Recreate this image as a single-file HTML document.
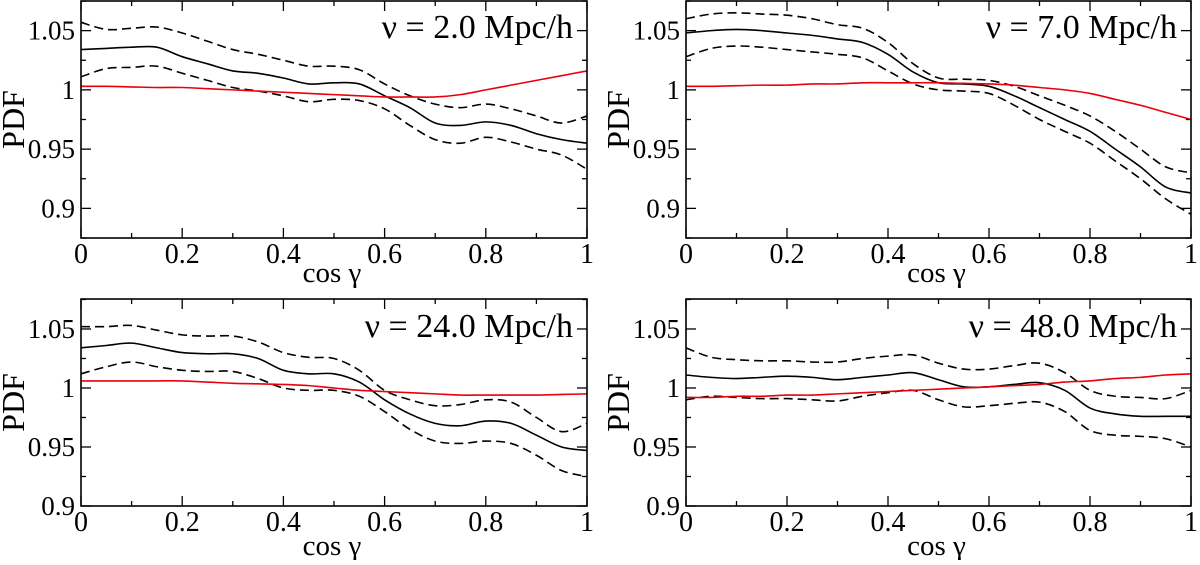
<!DOCTYPE html>
<html><head><meta charset="utf-8"><style>
html,body{margin:0;padding:0;background:#fff}
text{font-family:"Liberation Serif","Times New Roman","Tinos","DejaVu Serif",serif}
</style></head><body>
<svg id="c" width="1200" height="560" xmlns="http://www.w3.org/2000/svg"></svg>
<script>
const xs = [0,0.05,0.1,0.15,0.2,0.25,0.3,0.35,0.4,0.45,0.5,0.55,0.6,0.65,0.7,0.75,0.8,0.85,0.9,0.95,1];
const panelLabels = ["ν = 2.0 Mpc/h","ν = 7.0 Mpc/h","ν = 24.0 Mpc/h","ν = 48.0 Mpc/h"];
const xTicks = ["0","0.2","0.4","0.6","0.8","1"];
const yTicksTop = ["0.9","0.95","1","1.05"];
const yTicksBottom = ["0.9","0.95","1","1.05"];
// panel 1
const mean1 = [1.034,1.035,1.036,1.036,1.028,1.022,1.016,1.014,1.010,1.005,1.006,1.005,0.995,0.985,0.972,0.970,0.973,0.970,0.963,0.958,0.955];
const up1 = [1.057,1.051,1.052,1.053,1.048,1.041,1.034,1.030,1.025,1.020,1.020,1.017,1.005,0.995,0.988,0.985,0.988,0.984,0.978,0.972,0.978];
const lo1 = [1.011,1.018,1.019,1.020,1.014,1.008,1.002,0.999,0.995,0.990,0.992,0.991,0.984,0.970,0.958,0.955,0.960,0.956,0.950,0.945,0.933];
const red1 = [1.003,1.003,1.0025,1.002,1.002,1.001,1.000,0.999,0.998,0.997,0.996,0.995,0.994,0.994,0.994,0.996,1.000,1.004,1.008,1.012,1.016];
// panel 2
const mean2 = [1.048,1.050,1.051,1.050,1.048,1.046,1.043,1.040,1.030,1.015,1.006,1.005,1.003,0.995,0.985,0.975,0.965,0.950,0.935,0.918,0.913];
const up2 = [1.060,1.064,1.065,1.064,1.063,1.060,1.055,1.052,1.040,1.022,1.010,1.009,1.008,1.003,0.995,0.987,0.978,0.965,0.950,0.935,0.930];
const lo2 = [1.028,1.035,1.037,1.036,1.034,1.032,1.030,1.027,1.016,1.005,1.000,0.999,0.997,0.987,0.975,0.965,0.955,0.940,0.925,0.908,0.895];
const red2 = [1.003,1.003,1.0035,1.004,1.004,1.005,1.005,1.006,1.006,1.006,1.006,1.0055,1.005,1.004,1.002,1.000,0.997,0.992,0.987,0.981,0.975];
// panel 3
const mean3 = [1.034,1.036,1.038,1.034,1.030,1.029,1.029,1.025,1.015,1.012,1.012,1.005,0.990,0.978,0.970,0.968,0.972,0.970,0.960,0.950,0.947];
const up3 = [1.052,1.052,1.053,1.049,1.045,1.044,1.044,1.039,1.030,1.026,1.025,1.015,0.998,0.990,0.985,0.986,0.990,0.988,0.975,0.963,0.970];
const lo3 = [1.012,1.018,1.022,1.018,1.015,1.014,1.014,1.008,1.000,0.998,0.998,0.993,0.980,0.965,0.955,0.953,0.955,0.953,0.943,0.930,0.925];
const red3 = [1.006,1.006,1.006,1.006,1.006,1.005,1.004,1.0035,1.003,1.002,1.000,0.998,0.997,0.996,0.995,0.994,0.994,0.994,0.994,0.9945,0.995];
// panel 4
const mean4 = [1.011,1.009,1.008,1.009,1.010,1.009,1.007,1.009,1.011,1.013,1.007,1.001,1.001,1.003,1.0045,0.998,0.983,0.978,0.976,0.976,0.976];
const up4 = [1.034,1.026,1.024,1.023,1.023,1.022,1.022,1.025,1.027,1.028,1.021,1.016,1.016,1.019,1.021,1.013,0.998,0.993,0.992,0.991,0.998];
const lo4 = [0.990,0.993,0.992,0.991,0.991,0.990,0.989,0.993,0.996,0.998,0.990,0.984,0.985,0.987,0.988,0.980,0.964,0.960,0.959,0.957,0.950];
const red4 = [0.992,0.992,0.993,0.993,0.994,0.994,0.995,0.996,0.997,0.998,0.999,1.000,1.001,1.002,1.003,1.005,1.006,1.008,1.009,1.011,1.012];

const NS="http://www.w3.org/2000/svg";
const svg=document.getElementById('c');
function mk(tag,attrs,parent){const e=document.createElementNS(NS,tag);for(const k in attrs)e.setAttribute(k,attrs[k]);(parent||svg).appendChild(e);return e;}
const panels=[
 {x0:81,x1:587,y0:1,y1:238,ymin:0.875,ymax:1.075,yt:yTicksTop,series:[mean1,up1,lo1,red1],lab:panelLabels[0],ann:38,xl:263,cl:282},
 {x0:686,x1:1191,y0:1,y1:238,ymin:0.875,ymax:1.075,yt:yTicksTop,series:[mean2,up2,lo2,red2],lab:panelLabels[1],ann:38,xl:263,cl:282},
 {x0:81,x1:587,y0:299,y1:506,ymin:0.9,ymax:1.0754,yt:yTicksBottom,series:[mean3,up3,lo3,red3],lab:panelLabels[2],ann:337,xl:531,cl:555},
 {x0:686,x1:1191,y0:299,y1:506,ymin:0.9,ymax:1.0754,yt:yTicksBottom,series:[mean4,up4,lo4,red4],lab:panelLabels[3],ann:337,xl:531,cl:555}
];
function pathD(xf,yf,vals){
 const p=xs.map((x,i)=>[xf(x),yf(vals[i])]);
 let d=`M${p[0][0]},${p[0][1]}`;
 for(let i=0;i<p.length-1;i++){
  const a=p[Math.max(0,i-1)],b=p[i],c=p[i+1],e=p[Math.min(p.length-1,i+2)];
  d+=` C${b[0]+(c[0]-a[0])/6},${b[1]+(c[1]-a[1])/6} ${c[0]-(e[0]-b[0])/6},${c[1]-(e[1]-b[1])/6} ${c[0]},${c[1]}`;
 }
 return d;
}
panels.forEach((P,pi)=>{
 const g=mk('g',{});
 
 
 const xf=v=>P.x0+v*(P.x1-P.x0);
 const yf=v=>P.y1-(v-P.ymin)/(P.ymax-P.ymin)*(P.y1-P.y0);
 for(let k=0;k<=10;k++){
  const x=xf(k/10),L=k%2?5:10;
  mk('line',{x1:x,x2:x,y1:P.y1,y2:P.y1-L,stroke:'#000','stroke-width':1.3},g);
  mk('line',{x1:x,x2:x,y1:P.y0,y2:P.y0+L,stroke:'#000','stroke-width':1.3},g);
 }
 for(let v=0.875;v<=1.076;v+=0.025){
  if(v<P.ymin-1e-6)continue;
  const y=yf(v),maj=Math.abs((v*20)-Math.round(v*20))<1e-6,L=maj?10:5;
  mk('line',{x1:P.x0,x2:P.x0+L,y1:y,y2:y,stroke:'#000','stroke-width':1.3},g);
  mk('line',{x1:P.x1,x2:P.x1-L,y1:y,y2:y,stroke:'#000','stroke-width':1.3},g);
 }
 P.yt.forEach(t=>{
  const tx=mk('text',{x:P.x0-6,y:yf(parseFloat(t))+9,'font-size':27,'text-anchor':'end'},g);
  tx.textContent=t;
  
  
 });
 xTicks.forEach(t=>{
  const tx=mk('text',{x:xf(parseFloat(t)),y:P.xl,'font-size':28,'text-anchor':'middle'},g);
  tx.textContent=t;
  
  
 });
 const xt=mk('text',{x:(P.x0+P.x1)/2-2,y:P.cl,'font-size':29,'text-anchor':'middle'},g);
 xt.textContent='cos γ';
 
 
 const cy=(P.y0+P.y1)/2;
 const yt=mk('text',{x:P.x0-57,y:cy,'font-size':32,'text-anchor':'middle',transform:`rotate(-90 ${P.x0-57} ${cy})`},g);
 yt.textContent='PDF';
 
 
 const an=mk('text',{x:P.x1-14,y:P.ann,'font-size':34,'text-anchor':'end'},g);
 an.textContent=P.lab;
 
 
 const names=['mean-line','upper-dashed-line','lower-dashed-line','red-line'];
 P.series.forEach((vals,si)=>{
  const a={d:pathD(xf,yf,vals),fill:'none',stroke:si==3?'#e8000b':'#000','stroke-width':1.6};
  if(si==1||si==2)a['stroke-dasharray']='9,5';
  const pth=mk('path',a,g);
  
  
 });
 const box=mk('rect',{x:P.x0,y:P.y0,width:P.x1-P.x0,height:P.y1-P.y0,fill:'none',stroke:'#000','stroke-width':1.6},g);
 
 
});
</script>
</body></html>
